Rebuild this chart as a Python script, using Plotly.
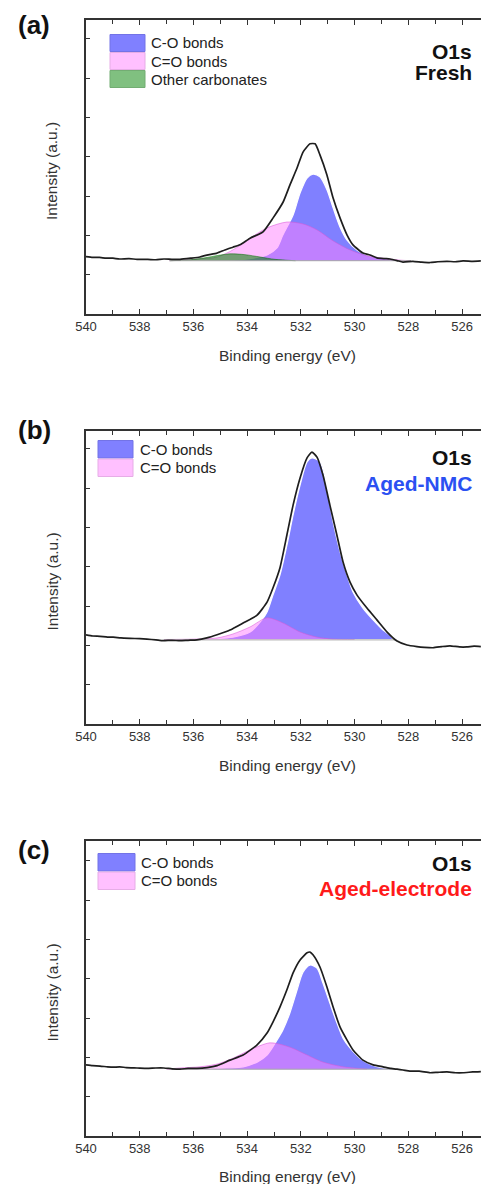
import plotly.graph_objects as go

W, H = 481, 1184

# ---------------- Panel (a) Fresh ----------------
a_env_ev = [540.0, 539.75, 539.5, 539.25, 539.0, 538.75, 538.4, 538.1, 537.7, 537.4, 537.1, 536.8,
            536.5, 536.1, 535.76, 535.5, 535.12, 534.83, 534.53, 534.27, 533.89, 533.41, 533.04,
            532.66, 532.41, 532.14, 531.92, 531.66, 531.47, 531.29, 531.03, 530.80, 530.54, 530.28,
            530.06, 529.69, 529.43, 529.17, 528.9, 528.68, 528.42, 528.20, 527.83, 527.5, 527.19,
            526.9, 526.56, 526.25, 525.96, 525.6, 525.3]
a_env_val = [1.46, 1.44, 1.44, 1.42, 1.42, 1.40, 1.41, 1.39, 1.39, 1.38, 1.40, 1.39,
             1.39, 1.42, 1.45, 1.50, 1.55, 1.63, 1.70, 1.76, 1.93, 2.09, 2.44,
             2.85, 3.28, 3.72, 4.12, 4.33, 4.33, 4.05, 3.54, 2.95, 2.44, 2.01,
             1.76, 1.55, 1.50, 1.43, 1.41, 1.40, 1.36, 1.32, 1.34, 1.32, 1.31,
             1.33, 1.34, 1.33, 1.35, 1.34, 1.35]
a_co_ev = [536.0, 534.5, 533.89, 533.26, 532.89, 532.67, 532.29, 532.03, 531.77, 531.55, 531.29,
           531.03, 530.80, 530.54, 530.28, 529.91, 529.54, 528.94, 528.0]
a_co_val = [1.356, 1.37, 1.41, 1.50, 1.68, 2.01, 2.52, 3.08, 3.46, 3.56, 3.49,
            3.16, 2.70, 2.21, 1.88, 1.63, 1.50, 1.42, 1.356]
a_cdo_ev = [536.9, 535.76, 535.12, 534.53, 533.89, 533.26, 532.52, 531.92, 531.40, 530.80, 530.17,
            529.54, 528.94, 528.3, 527.9]
a_cdo_val = [1.356, 1.40, 1.45, 1.63, 1.93, 2.19, 2.34, 2.29, 2.14, 1.86, 1.63,
             1.48, 1.42, 1.37, 1.356]
a_oc_ev = [536.87, 536.13, 535.57, 535.09, 534.64, 534.08, 533.52, 532.96, 532.2]
a_oc_val = [1.356, 1.38, 1.43, 1.49, 1.53, 1.51, 1.45, 1.39, 1.356]
a_base_ev = [536.9, 527.9]
a_base_val = [1.356, 1.356]

# ---------------- Panel (b) Aged-NMC ----------------
b_env_ev = [540.0, 539.75, 539.48, 539.2, 538.99, 538.7, 538.36, 538.0, 537.73, 537.4, 537.13, 536.8,
            536.50, 536.2, 535.87, 535.50, 535.12, 534.64, 534.15, 533.63, 533.26, 533.04, 532.78,
            532.52, 532.29, 532.03, 531.77, 531.59, 531.40, 531.18, 530.92, 530.66, 530.43, 530.17,
            529.91, 529.54, 529.17, 528.79, 528.42, 528.05, 527.68, 527.4, 527.08, 526.75, 526.45,
            526.1, 525.82, 525.55, 525.3]
b_env_val = [2.27, 2.24, 2.23, 2.21, 2.21, 2.19, 2.18, 2.17, 2.16, 2.14, 2.12, 2.13,
             2.12, 2.13, 2.14, 2.19, 2.27, 2.39, 2.57, 2.77, 3.10, 3.46, 3.97,
             4.81, 5.57, 6.26, 6.77, 6.92, 6.79, 6.34, 5.57, 4.81, 4.12, 3.61,
             3.28, 2.95, 2.65, 2.34, 2.11, 2.01, 1.97, 1.95, 1.94, 1.97, 1.99,
             1.96, 1.96, 1.98, 1.97]
b_co_ev = [536.0, 534.53, 533.89, 533.45, 533.26, 533.04, 532.78, 532.52, 532.29, 532.03, 531.77,
           531.59, 531.29, 531.03, 530.80, 530.54, 530.28, 530.06, 529.69, 529.31, 528.94, 528.68,
           528.57]
b_co_val = [2.16, 2.21, 2.34, 2.65, 2.85, 3.28, 3.79, 4.55, 5.32, 6.08, 6.67,
            6.77, 6.67, 6.01, 5.14, 4.38, 3.79, 3.36, 2.95, 2.65, 2.39, 2.26,
            2.16]
b_cdo_ev = [537.1, 536.0, 535.12, 534.53, 533.89, 533.26, 532.67, 532.03, 531.40, 530.80, 530.0]
b_cdo_val = [2.15, 2.16, 2.19, 2.29, 2.47, 2.70, 2.57, 2.34, 2.21, 2.16, 2.15]
b_base_ev = [537.1, 528.45]
b_base_val = [2.14, 2.14]

# ---------------- Panel (c) Aged-electrode ----------------
c_env_ev = [540.0, 539.75, 539.48, 539.2, 538.99, 538.75, 538.5, 538.1, 537.73, 537.4, 537.1, 536.8,
            536.5, 536.2, 535.87, 535.5, 535.12, 534.64, 534.15, 533.63, 533.26, 533.04, 532.78,
            532.52, 532.29, 532.03, 531.77, 531.66, 531.55, 531.29, 531.03, 530.80, 530.54, 530.28,
            530.06, 529.69, 529.31, 528.94, 528.65, 528.42, 528.2, 527.94, 527.6, 527.19, 526.9,
            526.56, 526.25, 525.96, 525.6, 525.3]
c_env_val = [1.81, 1.79, 1.78, 1.76, 1.75, 1.76, 1.74, 1.73, 1.72, 1.73, 1.73, 1.71,
             1.70, 1.72, 1.72, 1.74, 1.79, 1.93, 2.06, 2.32, 2.62, 2.90, 3.28,
             3.72, 4.15, 4.48, 4.66, 4.68, 4.61, 4.30, 3.79, 3.28, 2.77, 2.44,
             2.19, 1.93, 1.81, 1.76, 1.72, 1.70, 1.68, 1.65, 1.65, 1.61, 1.62,
             1.63, 1.61, 1.61, 1.63, 1.64]
c_co_ev = [536.3, 535.3, 534.75, 534.15, 533.63, 533.26, 532.89, 532.67, 532.41, 532.14, 531.92,
           531.66, 531.40, 531.18, 530.92, 530.66, 530.43, 530.17, 529.80, 529.43, 528.94, 528.42]
c_co_val = [1.70, 1.71, 1.73, 1.76, 1.88, 2.06, 2.44, 2.70, 3.13, 3.72, 4.17,
            4.35, 4.27, 3.89, 3.38, 2.88, 2.49, 2.24, 1.98, 1.83, 1.73, 1.70]
c_cdo_ev = [537.0, 536.5, 535.76, 535.12, 534.53, 533.89, 533.15, 532.41, 531.77, 531.18, 530.43,
            529.54]
c_cdo_val = [1.70, 1.73, 1.76, 1.83, 1.98, 2.19, 2.37, 2.26, 2.06, 1.88, 1.76, 1.70]
c_base_ev = [536.8, 528.4]
c_base_val = [1.70, 1.70]

# ---------------- Labels ----------------
panel_labels = ["(a)", "(b)", "(c)"]
core_level = "O1s"
sample_names = ["Fresh", "Aged-NMC", "Aged-electrode"]
sample_colors = ["#111111", "#2b50f2", "#ff1a1a"]
legend_a = ["C-O bonds", "C=O bonds", "Other carbonates"]
legend_bc = ["C-O bonds", "C=O bonds"]
x_title = "Binding energy (eV)"
y_title = "Intensity (a.u.)"

FONT = "Arial, 'Liberation Sans', sans-serif"
CO_FILL = "#8080ff"
CDO_FILL = "rgba(255,128,255,0.5)"
OC_FILL = "rgba(0,128,0,0.55)"
ENV_COLOR = "#1e1e1e"

# pixel layout: (top, bottom) of each plot frame
frames = [(20, 314), (431, 724), (841, 1136)]
X_LEFT = 86
PX_PER_EV = 26.86
PX_PER_UNIT = 39.3


def fx(p):
    return p / W


def fy(p):
    return 1 - p / H


fig = go.Figure()

panels = [
    dict(env=(a_env_ev, a_env_val), co=(a_co_ev, a_co_val), cdo=(a_cdo_ev, a_cdo_val),
         oc=(a_oc_ev, a_oc_val), base=(a_base_ev, a_base_val)),
    dict(env=(b_env_ev, b_env_val), co=(b_co_ev, b_co_val), cdo=(b_cdo_ev, b_cdo_val),
         oc=None, base=(b_base_ev, b_base_val)),
    dict(env=(c_env_ev, c_env_val), co=(c_co_ev, c_co_val), cdo=(c_cdo_ev, c_cdo_val),
         oc=None, base=(c_base_ev, c_base_val)),
]

x_right = 540 - (W - X_LEFT) / PX_PER_EV

for i, p in enumerate(panels):
    sfx = "" if i == 0 else str(i + 1)
    xa, ya = "x" + sfx, "y" + sfx
    fig.add_trace(go.Scatter(x=p["co"][0], y=p["co"][1], mode="lines", fill="toself",
                             fillcolor=CO_FILL, line=dict(color="white", width=1.2, shape="spline", smoothing=0.8),
                             xaxis=xa, yaxis=ya, showlegend=False, hoverinfo="skip"))
    fig.add_trace(go.Scatter(x=p["cdo"][0], y=p["cdo"][1], mode="lines", fill="toself",
                             fillcolor=CDO_FILL, line=dict(color="rgba(215,90,215,0.55)", width=1, shape="spline", smoothing=0.8),
                             xaxis=xa, yaxis=ya, showlegend=False, hoverinfo="skip"))
    if p["oc"] is not None:
        fig.add_trace(go.Scatter(x=p["oc"][0], y=p["oc"][1], mode="lines", fill="toself",
                                 fillcolor=OC_FILL, line=dict(color="rgba(0,110,0,0.5)", width=1, shape="spline", smoothing=0.8),
                                 xaxis=xa, yaxis=ya, showlegend=False, hoverinfo="skip"))
    fig.add_trace(go.Scatter(x=p["base"][0], y=p["base"][1], mode="lines",
                             line=dict(color="#a8a8a8", width=1),
                             xaxis=xa, yaxis=ya, showlegend=False, hoverinfo="skip"))
    fig.add_trace(go.Scatter(x=p["env"][0], y=p["env"][1], mode="lines",
                             line=dict(color=ENV_COLOR, width=1.7, shape="spline", smoothing=0.5),
                             xaxis=xa, yaxis=ya, showlegend=False, hoverinfo="skip"))

    top, bot = frames[i]
    xkey = "xaxis" + sfx
    ykey = "yaxis" + sfx
    fig.update_layout({
        xkey: dict(domain=[fx(X_LEFT), 1], range=[540, x_right], anchor=ya, automargin=False,
                   showline=True, linecolor="#333", linewidth=1.5, mirror="allticks",
                   ticks="inside", ticklen=5, tickwidth=1.2, tickcolor="#333",
                   tick0=540, dtick=2,
                   minor=dict(dtick=1, ticks="inside", ticklen=4, tickwidth=1.2, tickcolor="#333"),
                   tickfont=dict(family=FONT, size=13, color="#333"),
                   showgrid=False, zeroline=False),
        ykey: dict(domain=[fy(bot), fy(top)], range=[0, (bot - top) / PX_PER_UNIT], anchor=xa,
                   automargin=False,
                   showline=True, linecolor="#333", linewidth=1.5, mirror=False,
                   ticks="inside", ticklen=4, tickwidth=1.2, tickcolor="#333",
                   tick0=0, dtick=1, showticklabels=False,
                   showgrid=False, zeroline=False),
    })

annotations = []
shapes = []

# axis titles
xt_y = [355, 765, 1176]
for i, (top, bot) in enumerate(frames):
    annotations.append(dict(text=x_title, x=fx(287), y=fy(xt_y[i]), xref="paper", yref="paper",
                            xanchor="center", yanchor="middle", showarrow=False,
                            font=dict(family=FONT, size=15.5, color="#333")))
    annotations.append(dict(text=y_title, x=fx(52), y=fy((top + bot) / 2 + 4), xref="paper", yref="paper",
                            xanchor="center", yanchor="middle", showarrow=False, textangle=-90,
                            font=dict(family=FONT, size=15.5, color="#333")))

# panel labels
lab_y = [25, 430, 850]
for i in range(3):
    annotations.append(dict(text="<b>%s</b>" % panel_labels[i], x=fx(34), y=fy(lab_y[i]),
                            xref="paper", yref="paper", xanchor="center", yanchor="middle",
                            showarrow=False, font=dict(family=FONT, size=26, color="#111")))

# O1s + sample name
o1s_y = [51, 457, 863]
name_y = [73, 483, 888]
for i in range(3):
    annotations.append(dict(text="<b>%s</b>" % core_level, x=fx(474), y=fy(o1s_y[i]),
                            xref="paper", yref="paper", xanchor="right", yanchor="middle",
                            showarrow=False, font=dict(family=FONT, size=21, color="#111")))
    annotations.append(dict(text="<b>%s</b>" % sample_names[i], x=fx(474), y=fy(name_y[i]),
                            xref="paper", yref="paper", xanchor="right", yanchor="middle",
                            showarrow=False, font=dict(family=FONT, size=21, color=sample_colors[i])))

# legends (swatch boxes + text)
sw_fill = ["#8080ff", "#ffc0ff", "#80c080"]
sw_line = ["#7373e6", "#e6ade6", "#73ad73"]
leg_specs = [
    (legend_a, 110, 145, 149, 34, 18),
    (legend_bc, 98, 133, 138, 440, 18.5),
    (legend_bc, 98, 135, 139, 853, 18.5),
]
for items, x0, x1, xt, y0, hrow in leg_specs:
    for k, name in enumerate(items):
        ytop = y0 + k * hrow
        shapes.append(dict(type="rect", xref="paper", yref="paper",
                           x0=fx(x0), x1=fx(x1), y0=fy(ytop + hrow - 0.5), y1=fy(ytop + 0.5),
                           fillcolor=sw_fill[k], line=dict(color=sw_line[k], width=1)))
        annotations.append(dict(text=name, x=fx(xt), y=fy(ytop + hrow / 2), xref="paper", yref="paper",
                                xanchor="left", yanchor="middle", showarrow=False,
                                font=dict(family=FONT, size=15, color="#222")))

fig.update_layout(width=W, height=H, margin=dict(l=0, r=0, t=0, b=0, autoexpand=False),
                  paper_bgcolor="white", plot_bgcolor="white",
                  annotations=annotations, shapes=shapes, showlegend=False,
                  font=dict(family=FONT))

fig.write_html("out.html")
